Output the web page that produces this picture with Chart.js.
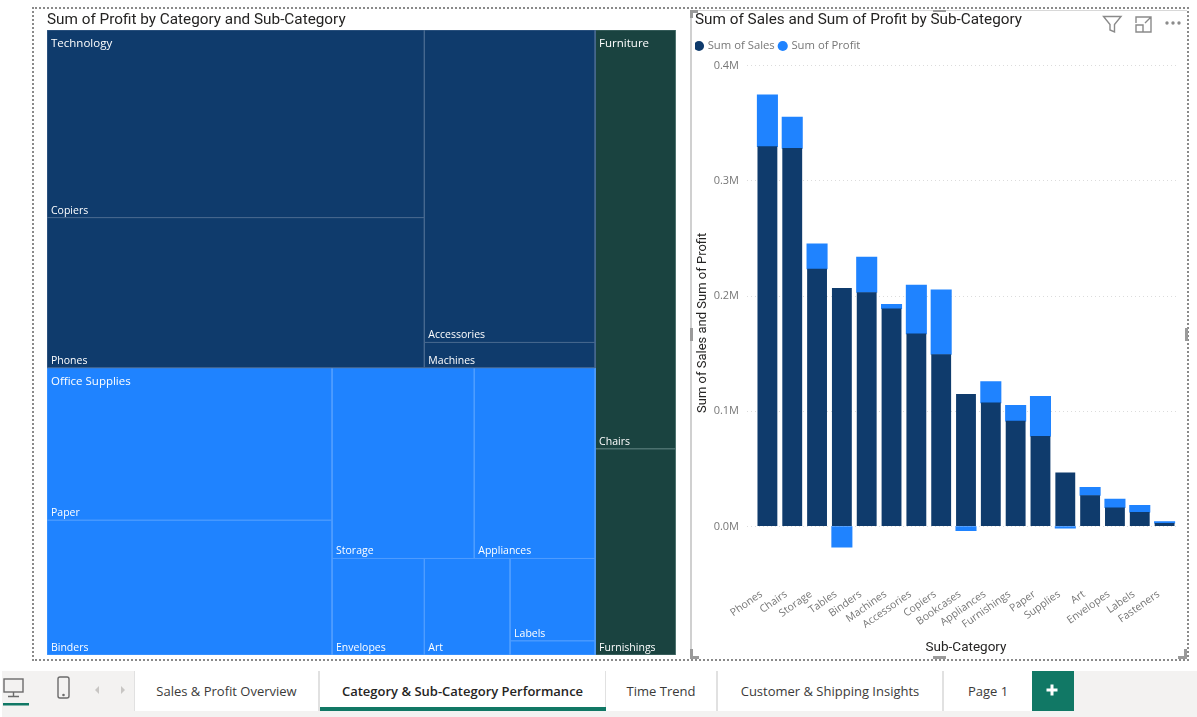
<!DOCTYPE html>
<html>
<head>
<meta charset="utf-8">
<script src="https://cdn.jsdelivr.net/npm/chart.js@4/dist/chart.umd.min.js"></script>
<style>
html,body{margin:0;padding:0;background:#fff;width:1197px;height:717px;overflow:hidden;font-family:"Open Sans",sans-serif}
.abs{position:absolute}
#frame{left:32px;top:7px;width:1157px;height:654px;border:2px dotted #8a8a8a;box-sizing:border-box}
#sel{left:690px;top:10px;width:497px;height:648px;box-sizing:border-box;border-left:2px solid #d0d0d0;border-top:1px solid #d8d8d8}
.h{background:#9a9a9a}
#bar{left:2px;top:671px;width:1195px;height:46px;background:#f3f2f1}
.tab{position:absolute;top:671px;height:40px;background:#fff;border-right:2px solid #e1e1e1;box-sizing:border-box;text-align:center;line-height:41px;font-size:13px;color:#3b3a39;font-family:"Open Sans",sans-serif;white-space:nowrap}
</style>
</head>
<body>
<div id="frame" class="abs"></div>
<div id="sel" class="abs"></div>
<div class="abs h" style="left:690px;top:10px;width:8px;height:3px"></div>
<div class="abs h" style="left:690px;top:10px;width:3px;height:8px"></div>
<div class="abs h" style="left:1178px;top:656px;width:9px;height:3px"></div>
<div class="abs h" style="left:1184px;top:649px;width:3px;height:9px"></div>
<div class="abs h" style="left:690px;top:656px;width:9px;height:3px"></div>
<div class="abs h" style="left:690px;top:649px;width:3px;height:9px"></div>
<div class="abs h" style="left:933px;top:656px;width:13px;height:3px"></div>
<div class="abs h" style="left:933px;top:10px;width:13px;height:2px"></div>
<div class="abs h" style="left:690px;top:328px;width:3px;height:13px"></div>
<div class="abs h" style="left:1185px;top:328px;width:3px;height:13px"></div>
<div class="abs" style="left:47px;top:8px;width:629px;height:647px"><canvas id="c1"></canvas></div>
<div class="abs" style="left:695px;top:8px;width:490px;height:650px"><canvas id="c2"></canvas></div>

<svg class="abs" style="left:1100px;top:12px" width="84" height="24" viewBox="0 0 84 24" fill="none" stroke="#8a8a8a" stroke-width="1.4">
  <path d="M3.5 4.5H21L14.5 12.5V20L10 18V12.5Z"/>
  <path d="M36 11V5H51M51 5V20H36V13H43V20M45 11L51 5M47 5H51V9"/>
  <circle cx="67" cy="11" r="1" fill="#8a8a8a"/><circle cx="73" cy="11" r="1" fill="#8a8a8a"/><circle cx="79" cy="11" r="1" fill="#8a8a8a"/>
</svg>

<div id="bar" class="abs"></div>
<svg class="abs" style="left:2px;top:674px" width="130" height="36" viewBox="0 0 130 36" fill="none" stroke="#6b6b6b" stroke-width="1.4">
  <rect x="2" y="5" width="19" height="13"/><path d="M11.500 18V22M6 22.500H17"/>
  <rect x="56" y="3" width="11" height="21" rx="2"/><circle cx="61.500" cy="21" r=".6"/>
  <path d="M97 12L93 16L97 20Z" fill="#c8c6c4" stroke="none"/><path d="M119 12L123 16L119 20Z" fill="#c8c6c4" stroke="none"/>
  <rect x="1" y="29" width="26" height="2.500" fill="#117865" stroke="none"/>
</svg>
<div class="tab" style="left:134px;width:186px;border-left:1px solid #e1e1e1">Sales &amp; Profit Overview</div>
<div class="tab" style="left:320px;width:286px;font-weight:600;color:#252423;border-right:1px solid #e1e1e1">Category &amp; Sub-Category Performance</div>
<div class="abs" style="left:320px;top:707px;width:286px;height:4px;background:#117865"></div>
<div class="tab" style="left:606px;width:112px">Time Trend</div>
<div class="tab" style="left:718px;width:226px">Customer &amp; Shipping Insights</div>
<div class="tab" style="left:944px;width:88px;border-right:none">Page 1</div>
<div class="abs" style="left:1032px;top:671px;width:42px;height:40px;background:#117865"></div>
<svg class="abs" style="left:1045px;top:683px" width="14" height="14" viewBox="0 0 14 14"><path d="M7 1.500V12.500M1.500 7H12.500" stroke="#fff" stroke-width="3"/></svg>

<script>
// ---- bar chart data ----
const subCategories = ['Phones','Chairs','Storage','Tables','Binders','Machines','Accessories','Copiers','Bookcases','Appliances','Furnishings','Paper','Supplies','Art','Envelopes','Labels','Fasteners'];
const sumOfSales  = [330000,328500,223800,207000,203400,189200,167400,149500,114900,107500,91700,78500,46700,27100,16500,12500,3000];
const sumOfProfit = [44500,26600,21300,-17700,30200,3400,41900,55600,-3500,18100,13100,34100,-1200,6500,7000,5500,950];
const yTicks = [0,100000,200000,300000,400000];

// ---- treemap data (sum of profit) ----
const technologyNames = ['Copiers','Phones','Accessories','Machines'];
const technologyProfit = [55600,44500,41900,3400];
const officeNames = ['Paper','Binders','Storage','Appliances','Envelopes','Art','Labels','Fasteners'];
const officeProfit = [34100,30200,21300,18100,7000,6500,5500,950];
const furnitureNames = ['Chairs','Furnishings'];
const furnitureProfit = [26600,13100];

const DARK='#0f3b6c', BLUE='#1f83ff', GREEN='#1a4340';
const leaf=(names,vals,i,color)=>({name:names[i],value:vals[i],color});
const T=i=>leaf(technologyNames,technologyProfit,i,DARK);
const O=i=>leaf(officeNames,officeProfit,i,BLUE);
const F=i=>leaf(furnitureNames,furnitureProfit,i,GREEN);
const split=(dir,...kids)=>({dir,kids,value:kids.reduce((s,k)=>s+k.value,0)});
const techNode=split('h',split('v',T(0),T(1)),split('v',T(2),T(3)));
const officeNode=split('h',split('v',O(0),O(1)),
  split('v',split('h',O(2),O(3)),split('h',O(4),O(5),split('v',O(6),O(7)))));
const furnNode=split('v',F(0),F(1));
const treeRoot=split('h',split('v',techNode,officeNode),furnNode);
const groupLabels=[['Technology',techNode],['Office Supplies',officeNode],['Furniture',furnNode]];

const cells=[];
function place(n,x0,x1,y0,y1){
  n.box=[x0,x1,y0,y1];
  if(!n.kids){cells.push(n);return;}
  let p=n.dir==='h'?x0:y0;
  const len=n.dir==='h'?x1-x0:y1-y0;
  n.kids.forEach(k=>{
    const d=len*k.value/n.value;
    if(n.dir==='h')place(k,p,p+d,y0,y1);else place(k,x0,x1,p,p+d);
    p+=d;
  });
}
place(treeRoot,0,1,0,1);

const EDGE={[DARK]:'#47688f',[BLUE]:'#4f9dff',[GREEN]:'#567a77'};
const treeLabels={id:'treeLabels',afterDatasetsDraw(c){
  const g=c.ctx,xs=c.scales.x,ys=c.scales.y;
  g.save();g.fillStyle='#fff';g.textAlign='left';
  g.font='10.5px "Open Sans", sans-serif';g.textBaseline='alphabetic';
  cells.forEach(n=>{
    if(n.value<2000)return;
    g.fillText(n.name,xs.getPixelForValue(n.box[0])+4,ys.getPixelForValue(n.box[3])-4);
  });
  g.font='11.5px "Open Sans", sans-serif';g.textBaseline='top';
  groupLabels.forEach(([t,n])=>{
    g.fillText(t,xs.getPixelForValue(n.box[0])+4,ys.getPixelForValue(n.box[2])+8);
  });
  g.restore();
}};
const titleFont={family:'Roboto, sans-serif',size:15.3,weight:'400'};
new Chart(document.getElementById('c1'),{
  type:'scatter',
  data:{datasets:cells.map(n=>({
    label:n.name,
    data:[[n.box[0],n.box[2]],[n.box[1],n.box[2]],[n.box[1],n.box[3]],[n.box[0],n.box[3]],[n.box[0],n.box[2]]].map(([x,y])=>({x,y})),
    showLine:true,fill:'shape',backgroundColor:n.color,borderColor:EDGE[n.color],borderWidth:1,pointRadius:0,tension:0
  }))},
  options:{responsive:true,maintainAspectRatio:false,animation:false,
    layout:{padding:0},
    scales:{x:{display:false,min:0,max:1},y:{display:false,min:0,max:1,reverse:true}},
    plugins:{legend:{display:false},tooltip:{enabled:false},
      title:{display:true,text:'Sum of Profit by Category and Sub-Category',align:'start',color:'#252423',font:titleFont,padding:{top:2.5,bottom:1.1}}}
  },
  plugins:[treeLabels]
});

const legendNudge={id:'legendNudge',afterLayout(c){c.legend.left-=4;}};
new Chart(document.getElementById('c2'),{
  type:'bar',
  data:{labels:subCategories,datasets:[
    {label:'Sum of Sales',data:sumOfSales,backgroundColor:DARK,stack:'s',order:1},
    {label:'Sum of Profit',data:sumOfProfit,backgroundColor:BLUE,stack:'s',order:2,inflateAmount:0.6}
  ]},
  options:{responsive:true,maintainAspectRatio:false,animation:false,
    layout:{padding:{left:0,right:8,top:0,bottom:2}},
    datasets:{bar:{categoryPercentage:1,barPercentage:0.8}},
    scales:{
      x:{grid:{display:false},border:{display:false},
        ticks:{minRotation:35,maxRotation:35,autoSkip:false,color:'#777',font:{family:'"Open Sans", sans-serif',size:10.5},padding:-4,labelOffset:-6},
        title:{display:true,text:'Sub-Category',color:'#252423',font:{family:'Roboto, sans-serif',size:13.5},padding:0},
        afterFit(s){s.height=72;}
      },
      y:{min:-50000,max:403500,
        afterBuildTicks(s){s.ticks=yTicks.map(value=>({value}));},
        grid:{color:'#dcdcdc',tickColor:'#dcdcdc',tickLength:8,drawTicks:true,lineWidth:1,tickBorderDash:[1,3]},
        border:{display:false,dash:[1,3]},
        ticks:{color:'#777',font:{family:'"Open Sans", sans-serif',size:11},padding:8,
          callback:v=>(v/1000000).toFixed(1)+'M'},
        title:{display:true,text:'Sum of Sales and Sum of Profit',color:'#252423',font:{family:'Roboto, sans-serif',size:13},padding:0},
        afterFit(s){s.width=60;}
      }
    },
    plugins:{tooltip:{enabled:false},
      title:{display:true,text:'Sum of Sales and Sum of Profit by Sub-Category',align:'start',color:'#252423',font:titleFont,padding:{top:2.5,bottom:6.5}},
      legend:{display:true,position:'top',align:'start',
        labels:{usePointStyle:true,pointStyle:'circle',boxWidth:6,boxHeight:7.2,padding:5,color:'#777',font:{family:'"Open Sans", sans-serif',size:11.3}}}
    }
  },
  plugins:[legendNudge]
});
</script>
</body>
</html>
